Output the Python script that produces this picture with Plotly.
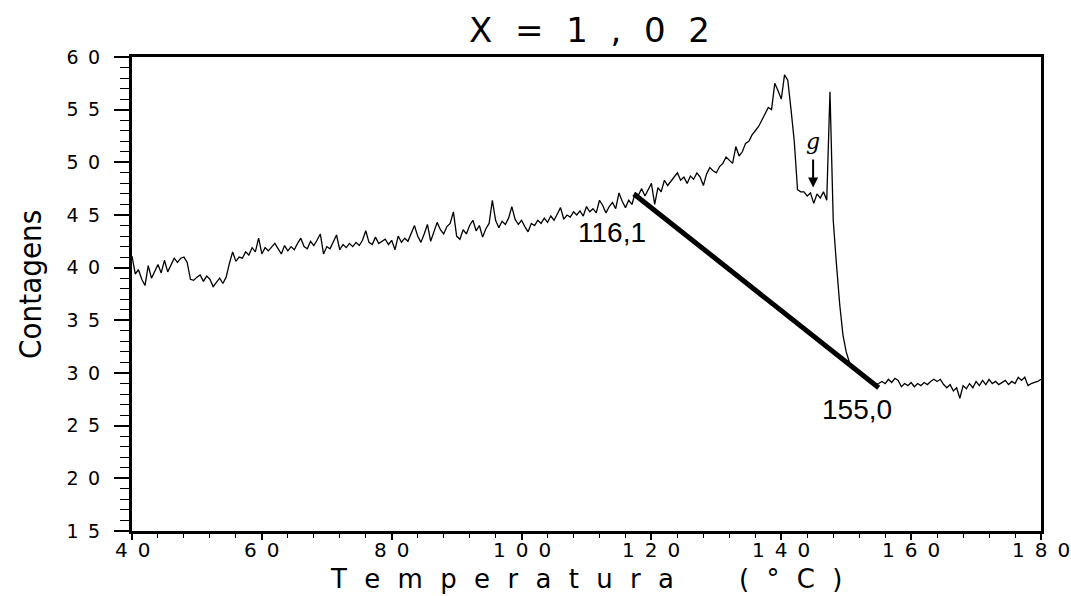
import plotly.graph_objects as go

# ---------------- data ----------------
temperatura = [
    40.0, 40.5, 41.0, 41.5, 42.0, 42.5, 43.0, 43.5, 44.0, 44.5,
    45.0, 45.5, 46.0, 46.5, 47.0, 47.5, 48.0, 48.5, 49.0, 49.5,
    50.0, 50.5, 51.0, 51.5, 52.0, 52.5, 53.0, 53.5, 54.0, 54.5,
    55.0, 55.5, 56.0, 56.5, 57.0, 57.5, 58.0, 58.5, 59.0, 59.5,
    60.0, 60.5, 61.0, 61.5, 62.0, 62.5, 63.0, 63.5, 64.0, 64.5,
    65.0, 65.5, 66.0, 66.5, 67.0, 67.5, 68.0, 68.5, 69.0, 69.5,
    70.0, 70.5, 71.0, 71.5, 72.0, 72.5, 73.0, 73.5, 74.0, 74.5,
    75.0, 75.5, 76.0, 76.5, 77.0, 77.5, 78.0, 78.5, 79.0, 79.5,
    80.0, 80.5, 81.0, 81.5, 82.0, 82.5, 83.0, 83.5, 84.0, 84.5,
    85.0, 85.5, 86.0, 86.5, 87.0, 87.5, 88.0, 88.5, 89.0, 89.5,
    90.0, 90.5, 91.0, 91.5, 92.0, 92.5, 93.0, 93.5, 94.0, 94.5,
    95.0, 95.5, 96.0, 96.5, 97.0, 97.5, 98.0, 98.5, 99.0, 99.5,
    100.0, 100.5, 101.0, 101.5, 102.0, 102.5, 103.0, 103.5, 104.0, 104.5,
    105.0, 105.5, 106.0, 106.5, 107.0, 107.5, 108.0, 108.5, 109.0, 109.5,
    110.0, 110.5, 111.0, 111.5, 112.0, 112.5, 113.0, 113.5, 114.0, 114.5,
    115.0, 115.5, 116.0, 116.5, 117.0, 117.5, 118.0, 118.5, 119.0, 119.5,
    120.0, 120.5, 121.0, 121.5, 122.0, 122.5, 123.0, 123.5, 124.0, 124.5,
    125.0, 125.5, 126.0, 126.5, 127.0, 127.5, 128.0, 128.5, 129.0, 129.5,
    130.0, 130.5, 131.0, 131.5, 132.0, 132.5, 133.0, 133.5, 134.0, 134.5,
    135.0, 135.5, 136.0, 136.5, 137.0, 137.5, 138.0, 138.5, 139.0, 139.5,
    140.0, 140.5, 141.0, 141.5, 142.0, 142.5, 143.0, 143.5, 144.0, 144.5,
    145.0, 145.5, 146.0, 146.5, 147.0, 147.5, 148.0, 148.5, 149.0, 149.5,
    150.0, 150.5, 151.0, 151.5, 152.0, 152.5, 153.0, 153.5, 154.0, 154.5,
    155.0, 155.5, 156.0, 156.5, 157.0, 157.5, 158.0, 158.5, 159.0, 159.5,
    160.0, 160.5, 161.0, 161.5, 162.0, 162.5, 163.0, 163.5, 164.0, 164.5,
    165.0, 165.5, 166.0, 166.5, 167.0, 167.5, 168.0, 168.5, 169.0, 169.5,
    170.0, 170.5, 171.0, 171.5, 172.0, 172.5, 173.0, 173.5, 174.0, 174.5,
    175.0, 175.5, 176.0, 176.5, 177.0, 177.5, 178.0, 178.5, 179.0, 179.5,
    180.0,
]

contagens = [
    41.1, 39.4, 39.8, 38.9, 38.3, 40.2, 39.0, 39.6, 40.3, 39.5,
    40.7, 39.6, 40.2, 40.9, 40.5, 40.9, 41.0, 40.5, 38.9, 38.8,
    39.1, 39.3, 38.7, 39.2, 38.9, 38.2, 38.6, 39.0, 38.5, 39.1,
    40.4, 41.5, 40.6, 41.0, 40.9, 41.5, 41.2, 41.9, 41.5, 42.8,
    41.3, 41.9, 41.6, 42.0, 42.3, 41.8, 41.3, 42.1, 41.6, 42.0,
    41.7, 42.3, 42.8, 42.0, 41.8, 42.5, 42.1, 42.6, 43.2, 41.3,
    42.0, 41.8, 42.4, 43.1, 41.7, 42.2, 41.9, 42.3, 42.0, 42.4,
    42.1, 42.6, 43.5, 42.4, 42.2, 42.9, 42.3, 42.5, 42.7, 42.2,
    42.6, 41.7, 43.0, 42.4, 42.8, 42.5, 43.3, 44.0, 43.0, 42.4,
    43.2, 44.1, 42.5, 43.5, 44.3, 43.6, 43.2, 43.9, 44.2, 45.3,
    43.0, 42.7, 43.6, 43.2, 44.0, 44.5, 43.5, 44.0, 42.9, 43.7,
    44.2, 46.4, 44.5, 43.8, 44.4, 44.1, 44.7, 45.8, 44.6, 44.1,
    44.5, 43.9, 43.4, 44.2, 44.0, 44.5, 44.2, 44.7, 44.3, 44.9,
    44.5, 45.1, 45.7, 44.6, 45.0, 44.8, 45.3, 45.0, 45.4, 44.9,
    45.8, 45.3, 45.6, 45.2, 46.4, 45.9, 45.2, 45.8, 46.2, 45.6,
    47.1, 46.3, 45.7, 46.4, 46.0, 47.1, 46.9, 47.5, 46.8, 47.4,
    48.0, 46.0, 47.6, 47.2, 48.3, 47.8, 48.2, 48.7, 49.0, 48.3,
    48.6, 48.0, 48.7, 48.4, 49.0, 48.6, 47.8, 48.9, 49.5, 49.2,
    49.0, 49.6, 49.9, 50.5, 50.2, 49.9, 51.5, 50.6, 51.0, 51.8,
    52.0, 52.6, 53.0, 53.4, 54.0, 54.6, 55.2, 55.0, 57.5, 56.8,
    56.0, 58.3, 57.8, 55.0, 52.0, 47.4, 47.2, 47.2, 46.8, 47.1,
    46.1, 47.0, 46.6, 47.2, 46.4, 56.7, 44.5, 40.3, 36.5, 33.6,
    32.0, 31.0, 30.5, 30.2, 29.9, 29.6, 29.4, 29.2, 29.0, 28.9,
    29.0, 29.2, 29.0, 29.4, 29.1, 29.5, 29.3, 28.7, 29.0, 28.8,
    29.1, 28.7, 29.0, 28.8, 29.1, 28.9, 29.2, 29.4, 29.2, 29.4,
    28.9, 28.6, 28.9, 28.3, 28.6, 27.6, 28.8, 28.5, 29.0, 28.6,
    29.2, 28.8, 29.3, 28.9, 29.4, 29.0, 29.2, 28.9, 29.1, 29.3,
    28.9, 29.2, 29.0, 29.6, 29.3, 29.6, 28.8, 29.0, 29.1, 29.2,
    29.4,
]

# tangent (extrapolation) line endpoints
reta_temp = [117.3, 155.0]
reta_cont = [47.0, 28.6]

# labels
rotulos_texto = ["116,1", "155,0"]
rotulos_temp = [113.9, 151.6]
rotulos_cont = [43.3, 26.5]

x_ticks = [40, 60, 80, 100, 120, 140, 160, 180]
y_ticks = [15, 20, 25, 30, 35, 40, 45, 50, 55, 60]

titulo = "X=1,02"
titulo_x_palavra = "Temperatura"
titulo_x_unidade = "(°C)"
titulo_y = "Contagens"

# ---------------- helpers ----------------
def espacar(s, sep):
    return sep.join(list(s))

EN = "\u2002"

fig = go.Figure()

fig.add_trace(go.Scatter(
    x=temperatura, y=contagens, mode="lines",
    line=dict(color="black", width=1.3),
    showlegend=False, hoverinfo="skip",
))

fig.add_trace(go.Scatter(
    x=reta_temp, y=reta_cont, mode="lines",
    line=dict(color="black", width=5),
    showlegend=False, hoverinfo="skip",
))

fig.update_layout(
    width=1071, height=596,
    margin=dict(l=132, r=30, t=57, b=65),
    paper_bgcolor="white", plot_bgcolor="white",
    xaxis=dict(
        range=[40, 180],
        tickvals=x_ticks,
        showticklabels=False,
        ticks="outside", ticklen=6, tickwidth=1.5, tickcolor="black",
        minor=dict(dtick=4, tick0=40, ticks="outside", ticklen=4, tickwidth=1, tickcolor="black"),
        showline=True, linecolor="black", linewidth=3, mirror=True,
        showgrid=False, zeroline=False,
    ),
    yaxis=dict(
        range=[15, 60],
        tickvals=y_ticks,
        ticktext=[espacar(str(v), EN) for v in y_ticks],
        ticks="outside", ticklen=15, tickwidth=1.5, tickcolor="black",
        minor=dict(dtick=1, tick0=15, ticks="outside", ticklen=9, tickwidth=1, tickcolor="black"),
        showline=True, linecolor="black", linewidth=3, mirror=True,
        showgrid=False, zeroline=False,
        tickfont=dict(family="DejaVu Sans", size=19, color="black"),
        ticklabelstandoff=10,
    ),
)

plot_l, plot_r, plot_t, plot_b = 132, 1041, 57, 531


def px_to_paper(px, py):
    return (px - plot_l) / (plot_r - plot_l), (plot_b - py) / (plot_b - plot_t)


annotations = []
# x tick labels (placed just under the axis, as in the reference)
_, xt_y = px_to_paper(0, 536)
for v in x_ticks:
    annotations.append(dict(
        text=espacar(str(v), EN), x=v, y=xt_y, xref="x", yref="paper",
        xanchor="center", yanchor="top", showarrow=False,
        font=dict(family="DejaVu Sans", size=20, color="black"),
    ))

tx, ty = px_to_paper(589, 30)
annotations.append(dict(
    text=espacar(titulo, "\u2002\u2006"), x=tx, y=ty, xref="paper", yref="paper",
    xanchor="center", yanchor="middle", showarrow=False,
    font=dict(family="DejaVu Sans", size=34, color="black"),
))
ax_x, ax_y = px_to_paper(586, 579)
annotations.append(dict(
    text=espacar(titulo_x_palavra, "\u2002\u2006") + "\u2003\u2003\u2002" + espacar(titulo_x_unidade, "\u2002\u2006"),
    x=ax_x, y=ax_y, xref="paper", yref="paper",
    xanchor="center", yanchor="middle", showarrow=False,
    font=dict(family="DejaVu Sans", size=26, color="black"),
))
ay_x, ay_y = px_to_paper(30, 285)
annotations.append(dict(
    text=titulo_y, x=ay_x, y=ay_y, xref="paper", yref="paper",
    xanchor="center", yanchor="middle", showarrow=False, textangle=-90,
    font=dict(family="Liberation Sans Narrow, DejaVu Sans Condensed, sans-serif", size=31, color="black"),
))
for t, xv, yv in zip(rotulos_texto, rotulos_temp, rotulos_cont):
    annotations.append(dict(
        text=t, x=xv, y=yv, xref="x", yref="y", showarrow=False,
        xanchor="center", yanchor="middle",
        font=dict(family="Liberation Sans, Arial", size=28, color="black"),
    ))
# 'g' mark with arrow
annotations.append(dict(
    text="g", x=144.9, y=52.0, xref="x", yref="y", showarrow=False,
    xanchor="center", yanchor="middle",
    font=dict(family="DejaVu Serif", size=22, color="black", style="italic"),
))
annotations.append(dict(
    text="", x=144.9, y=47.6, ax=144.9, ay=50.4, xref="x", yref="y",
    axref="x", ayref="y", showarrow=True, arrowhead=2, arrowsize=1,
    arrowwidth=2, arrowcolor="black",
))

fig.update_layout(annotations=annotations)

fig.write_html("out.html")
